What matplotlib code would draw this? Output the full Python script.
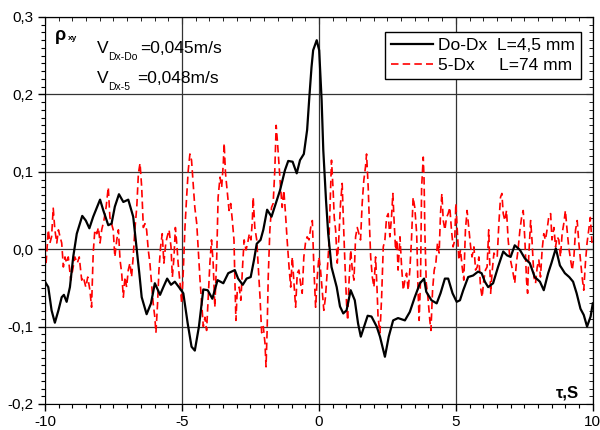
import matplotlib
matplotlib.use("Agg")
import matplotlib.pyplot as plt
from matplotlib.ticker import MultipleLocator, FuncFormatter

plt.rcParams["font.family"] = ["Liberation Sans", "DejaVu Sans"]

# Do-Dx, L=4,5 mm (solid black)
tau_do = [-10.0, -9.88, -9.76, -9.64, -9.51, -9.39, -9.31, -9.21, -9.09, -8.97,
          -8.84, -8.64, -8.51, -8.38, -8.24, -7.99, -7.87, -7.69, -7.57, -7.45,
          -7.30, -7.14, -6.96, -6.78, -6.65, -6.56, -6.47, -6.29, -6.13, -5.99,
          -5.80, -5.68, -5.54, -5.40, -5.26, -5.11, -4.95, -4.79, -4.65, -4.53,
          -4.38, -4.22, -4.06, -3.89, -3.70, -3.49, -3.31, -3.07, -2.95, -2.78,
          -2.64, -2.49, -2.37, -2.27, -2.13, -2.03, -1.89, -1.73, -1.61, -1.42,
          -1.24, -1.12, -0.96, -0.81, -0.69, -0.55, -0.43, -0.35, -0.27, -0.21,
          -0.08, 0.01, 0.10, 0.16, 0.26, 0.34, 0.46, 0.65, 0.77, 0.89,
          1.01, 1.16, 1.31, 1.43, 1.53, 1.65, 1.78, 1.92, 2.11, 2.23,
          2.41, 2.55, 2.71, 2.89, 3.14, 3.32, 3.50, 3.69, 3.84, 3.92,
          4.11, 4.30, 4.44, 4.60, 4.72, 4.88, 5.03, 5.15, 5.27, 5.45,
          5.63, 5.81, 5.94, 6.06, 6.18, 6.36, 6.54, 6.73, 6.87, 7.00,
          7.15, 7.34, 7.52, 7.70, 7.88, 8.07, 8.21, 8.37, 8.49, 8.65,
          8.80, 8.98, 9.14, 9.28, 9.41, 9.55, 9.67, 9.79, 9.92, 10.0]
rho_do = [-0.042, -0.049, -0.079, -0.095, -0.079, -0.062, -0.059, -0.068, -0.049, -0.010,
          0.020, 0.043, 0.037, 0.027, 0.042, 0.064, 0.050, 0.031, 0.033, 0.055,
          0.071, 0.061, 0.064, 0.042, 0.000, -0.030, -0.062, -0.084, -0.070, -0.044,
          -0.059, -0.049, -0.038, -0.046, -0.042, -0.049, -0.057, -0.096, -0.126, -0.131,
          -0.100, -0.052, -0.053, -0.064, -0.040, -0.044, -0.031, -0.027, -0.038, -0.046,
          -0.038, -0.036, -0.014, 0.007, 0.012, 0.025, 0.051, 0.042, 0.055, 0.076,
          0.102, 0.114, 0.113, 0.098, 0.115, 0.123, 0.154, 0.196, 0.235, 0.257,
          0.270, 0.257, 0.192, 0.128, 0.063, 0.020, -0.023, -0.049, -0.074, -0.083,
          -0.079, -0.053, -0.066, -0.096, -0.113, -0.100, -0.086, -0.087, -0.100, -0.113,
          -0.139, -0.113, -0.092, -0.089, -0.092, -0.081, -0.062, -0.044, -0.038, -0.055,
          -0.066, -0.070, -0.057, -0.038, -0.038, -0.057, -0.068, -0.066, -0.053, -0.036,
          -0.034, -0.029, -0.031, -0.042, -0.049, -0.044, -0.023, -0.003, -0.008, -0.010,
          0.005, -0.001, -0.012, -0.018, -0.036, -0.042, -0.053, -0.031, -0.018, 0.001,
          -0.021, -0.031, -0.036, -0.042, -0.057, -0.077, -0.085, -0.100, -0.087, -0.070]

# 5-Dx, L=74 mm (dashed red)
tau_5 = [-9.96, -9.88, -9.82, -9.76, -9.70, -9.64, -9.57, -9.51, -9.45, -9.39,
         -9.33, -9.27, -9.21, -9.15, -9.06, -8.99, -8.91, -8.82, -8.75, -8.66,
         -8.60, -8.51, -8.44, -8.36, -8.30, -8.24, -8.18, -8.11, -8.05, -7.99,
         -7.93, -7.85, -7.77, -7.69, -7.63, -7.57, -7.51, -7.45, -7.38, -7.32,
         -7.26, -7.20, -7.14, -7.08, -7.02, -6.96, -6.90, -6.84, -6.78, -6.72,
         -6.65, -6.59, -6.53, -6.47, -6.41, -6.35, -6.29, -6.23, -6.17, -6.11,
         -6.05, -5.99, -5.95, -5.89, -5.84, -5.78, -5.72, -5.66, -5.59, -5.54,
         -5.47, -5.40, -5.35, -5.29, -5.24, -5.18, -5.14, -5.07, -5.01, -4.95,
         -4.89, -4.83, -4.77, -4.71, -4.65, -4.59, -4.53, -4.46, -4.41, -4.34,
         -4.28, -4.22, -4.16, -4.10, -4.04, -3.98, -3.92, -3.86, -3.80, -3.73,
         -3.68, -3.61, -3.55, -3.49, -3.46, -3.41, -3.35, -3.28, -3.22, -3.16,
         -3.10, -3.07, -3.03, -2.98, -2.91, -2.85, -2.78, -2.73, -2.66, -2.60,
         -2.54, -2.48, -2.43, -2.40, -2.34, -2.27, -2.22, -2.15, -2.09, -2.03,
         -1.97, -1.93, -1.89, -1.85, -1.79, -1.73, -1.67, -1.61, -1.56, -1.51,
         -1.46, -1.40, -1.34, -1.28, -1.22, -1.16, -1.09, -1.03, -0.97, -0.91,
         -0.85, -0.79, -0.73, -0.67, -0.61, -0.55, -0.49, -0.43, -0.36, -0.30,
         -0.24, -0.18, -0.12, -0.06, 0.00, 0.06, 0.12, 0.18, 0.24, 0.30,
         0.36, 0.43, 0.46, 0.52, 0.56, 0.61, 0.67, 0.73, 0.79, 0.85,
         0.89, 0.95, 1.01, 1.05, 1.09, 1.16, 1.22, 1.28, 1.34, 1.40,
         1.46, 1.52, 1.58, 1.64, 1.70, 1.74, 1.80, 1.84, 1.89, 1.95,
         2.01, 2.07, 2.12, 2.16, 2.23, 2.29, 2.35, 2.41, 2.47, 2.53,
         2.59, 2.65, 2.70, 2.75, 2.80, 2.85, 2.89, 2.96, 3.02, 3.08,
         3.14, 3.20, 3.26, 3.32, 3.38, 3.44, 3.50, 3.57, 3.62, 3.66,
         3.71, 3.75, 3.81, 3.84, 3.87, 3.92, 3.98, 4.05, 4.09, 4.15,
         4.21, 4.27, 4.33, 4.39, 4.44, 4.49, 4.54, 4.60, 4.66, 4.72,
         4.78, 4.84, 4.90, 4.96, 5.00, 5.05, 5.11, 5.17, 5.23, 5.29,
         5.35, 5.41, 5.47, 5.54, 5.59, 5.66, 5.72, 5.78, 5.84, 5.90,
         5.96, 6.02, 6.08, 6.14, 6.20, 6.27, 6.32, 6.39, 6.45, 6.51,
         6.57, 6.63, 6.68, 6.73, 6.79, 6.85, 6.91, 6.97, 7.03, 7.09,
         7.15, 7.21, 7.27, 7.34, 7.40, 7.46, 7.52, 7.58, 7.62, 7.66,
         7.73, 7.78, 7.85, 7.91, 7.97, 8.03, 8.09, 8.15, 8.21, 8.27,
         8.33, 8.39, 8.46, 8.51, 8.58, 8.64, 8.70, 8.76, 8.82, 8.88,
         8.94, 9.00, 9.06, 9.12, 9.19, 9.25, 9.31, 9.37, 9.43, 9.49,
         9.55, 9.61, 9.67, 9.73, 9.79, 9.85, 9.91, 9.97]
rho_5 = [-0.018, 0.025, 0.008, 0.016, 0.053, 0.025, 0.008, 0.025, 0.016, 0.008,
         -0.023, -0.010, -0.018, -0.010, -0.040, -0.027, -0.010, -0.018, -0.010, -0.040,
         -0.036, -0.049, -0.036, -0.053, -0.075, -0.005, 0.025, 0.020, 0.028, 0.008,
         0.025, 0.037, 0.054, 0.080, 0.041, 0.033, 0.025, -0.010, 0.012, 0.025,
         -0.014, -0.031, -0.062, -0.036, -0.049, -0.027, -0.018, -0.036, -0.010, 0.025,
         0.054, 0.098, 0.111, 0.080, 0.028, 0.033, 0.025, -0.001, -0.018, -0.044,
         -0.070, -0.088, -0.108, -0.070, -0.027, 0.003, 0.020, -0.018, 0.008, 0.016,
         0.025, 0.003, -0.036, -0.010, 0.028, 0.003, -0.018, -0.044, -0.070, -0.027,
         0.028, 0.067, 0.102, 0.123, 0.115, 0.085, 0.054, 0.033, 0.003, -0.040,
         -0.070, -0.100, -0.088, -0.105, -0.062, -0.018, 0.012, -0.018, -0.075, -0.010,
         0.067, 0.093, 0.080, 0.111, 0.137, 0.098, 0.076, 0.050, 0.059, 0.037,
         0.012, -0.036, -0.092, -0.053, -0.049, -0.066, -0.018, 0.012, -0.001, 0.008,
         0.020, 0.012, 0.037, 0.067, 0.028, 0.012, -0.018, -0.062, -0.108, -0.100,
         -0.121, -0.152, -0.105, -0.036, 0.025, 0.054, 0.059, 0.102, 0.160, 0.137,
         0.111, 0.080, 0.054, 0.076, 0.046, 0.012, -0.023, -0.049, -0.010, -0.044,
         -0.075, -0.031, -0.027, -0.044, -0.057, -0.010, 0.008, 0.016, 0.012, 0.028,
         0.037, -0.027, -0.075, -0.036, -0.010, -0.027, -0.053, -0.079, -0.062, -0.031,
         0.003, 0.080, 0.115, 0.076, 0.041, 0.025, -0.018, 0.016, 0.059, 0.085,
         0.041, -0.018, -0.070, -0.092, -0.049, -0.001, -0.027, -0.040, 0.016, 0.028,
         0.020, 0.012, 0.059, 0.089, 0.106, 0.123, 0.080, 0.037, -0.010, -0.036,
         -0.049, -0.010, -0.049, -0.088, -0.108, -0.062, 0.003, 0.012, 0.041, 0.046,
         0.016, 0.041, 0.072, 0.033, -0.001, 0.012, -0.027, 0.016, -0.023, -0.053,
         -0.040, -0.031, -0.053, -0.027, 0.012, 0.067, 0.054, 0.020, -0.053, -0.092,
         -0.040, 0.080, 0.119, 0.089, 0.020, -0.044, -0.062, -0.092, -0.105, -0.053,
         -0.027, -0.018, 0.008, -0.005, 0.046, 0.072, 0.037, 0.025, 0.041, 0.046,
         0.054, 0.025, 0.003, 0.012, 0.059, 0.025, -0.014, -0.001, -0.023, -0.040,
         0.025, 0.050, 0.028, 0.003, -0.010, 0.003, -0.027, -0.023, -0.010, -0.049,
         -0.062, -0.040, -0.027, -0.023, 0.025, -0.057, -0.031, -0.005, -0.010, -0.010,
         0.033, 0.067, 0.072, 0.046, 0.037, 0.050, 0.012, -0.010, -0.020, -0.031,
         -0.044, -0.018, -0.001, 0.025, 0.041, 0.050, 0.012, -0.040, -0.057, -0.010,
         0.037, 0.012, -0.036, -0.044, -0.023, -0.014, -0.036, -0.001, 0.020, 0.012,
         0.025, 0.041, 0.046, 0.012, 0.028, 0.003, 0.016, 0.012, -0.010, 0.020,
         0.033, 0.050, 0.025, 0.003, -0.014, -0.027, -0.010, 0.025, 0.037, 0.008,
         -0.014, -0.036, -0.053, -0.018, 0.008, 0.025, 0.041, 0.008]

fig = plt.figure(figsize=(6.0, 4.3), dpi=100)
ax = fig.add_axes([0.075, 0.0605, 0.913, 0.9])

ax.plot(tau_do, rho_do, color="black", lw=1.6, label="Do-Dx  L=4,5 mm", zorder=3)
ax.plot(tau_5, rho_5, color="#ff0000", lw=1.2, ls=(0, (4.5, 2.5)),
        label="5-Dx     L=74 mm", zorder=2)

ax.set_xlim(-10, 10)
ax.set_ylim(-0.2, 0.3)
ax.xaxis.set_major_locator(MultipleLocator(5))
ax.xaxis.set_minor_locator(MultipleLocator(0.5))
ax.yaxis.set_major_locator(MultipleLocator(0.1))
ax.yaxis.set_minor_locator(MultipleLocator(0.01))
ax.xaxis.set_major_formatter(FuncFormatter(lambda v, p: f"{v:.0f}"))
ax.yaxis.set_major_formatter(FuncFormatter(lambda v, p: f"{v:.1f}".replace(".", ",").replace("-0,0", "0,0")))
ax.tick_params(which="both", direction="out", top=False, right=False, labelsize=11, pad=3)
ax.tick_params(which="major", length=5, width=1)
ax.tick_params(which="minor", length=3, width=0.8)

# mirrored inward ticks on top and right
top = ax.secondary_xaxis("top")
top.xaxis.set_major_locator(MultipleLocator(5))
top.xaxis.set_minor_locator(MultipleLocator(0.5))
top.tick_params(which="both", direction="in", labeltop=False)
top.tick_params(which="major", length=5)
top.tick_params(which="minor", length=3)
right = ax.secondary_yaxis("right")
right.yaxis.set_major_locator(MultipleLocator(0.1))
right.yaxis.set_minor_locator(MultipleLocator(0.01))
right.tick_params(which="both", direction="in", labelright=False)
right.tick_params(which="major", length=5)
right.tick_params(which="minor", length=3)

ax.grid(True, which="major", color="#333333", lw=0.9)
ax.set_axisbelow(True)

# labels inside the axes
ax.text(0.018, 0.94, "ρ", transform=ax.transAxes, fontsize=13, fontweight="bold", va="baseline")
ax.text(0.042, 0.94, "xy", transform=ax.transAxes, fontsize=6, fontweight="bold", va="baseline")
ax.text(0.095, 0.907, "V", transform=ax.transAxes, fontsize=12.5, va="baseline")
ax.text(0.116, 0.889, "Dx-Do", transform=ax.transAxes, fontsize=7.5, va="baseline")
ax.text(0.173, 0.907, "=0,045m/s", transform=ax.transAxes, fontsize=12.5, va="baseline")
ax.text(0.095, 0.829, "V", transform=ax.transAxes, fontsize=12.5, va="baseline")
ax.text(0.116, 0.811, "Dx-5", transform=ax.transAxes, fontsize=7.5, va="baseline")
ax.text(0.168, 0.829, "=0,048m/s", transform=ax.transAxes, fontsize=12.5, va="baseline")
ax.text(0.953, 0.018, "τ,S", transform=ax.transAxes, fontsize=12, fontweight="bold",
        ha="center", va="baseline")

leg = ax.legend(loc="upper right", bbox_to_anchor=(0.978, 0.961), borderaxespad=0,
                fontsize=12.5, handlelength=2.4, handletextpad=0.3, fancybox=False,
                edgecolor="black", framealpha=1, borderpad=0.35, labelspacing=0.25)
leg.get_frame().set_linewidth(1.0)

fig.savefig("out.png", dpi=100)
